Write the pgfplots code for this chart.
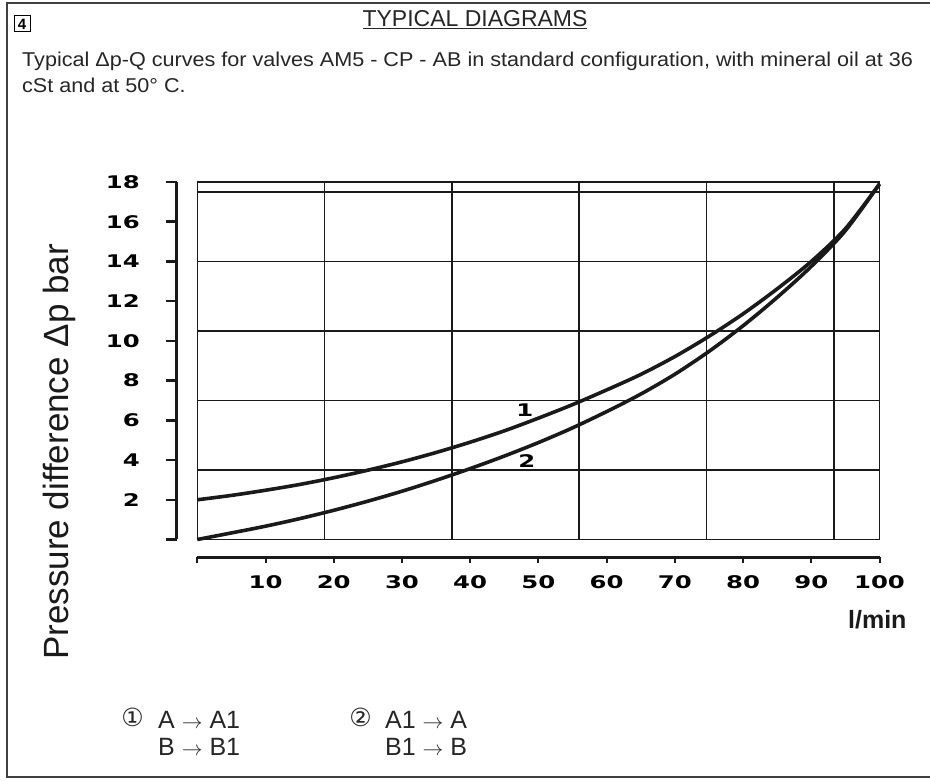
\documentclass[border=0pt]{standalone}
\usepackage{fontspec}
\setmainfont{Liberation Sans}
\newfontfamily\dejavu{DejaVu Sans}
\usepackage{graphicx}
\usepackage{pgfplots}
\pgfplotsset{compat=1.18}
\newcommand\tk[1]{\scalebox{1.4}[1]{\dejavu\bfseries\fontsize{17.4}{17.4}\selectfont #1}}
\newcommand\ar{{\fontsize{20}{20}\selectfont$\rightarrow$}}
\definecolor{ink}{HTML}{1A1A1A}

\begin{document}
\begin{tikzpicture}[x=1pt,y=1pt]
\useasboundingbox (0,0) rectangle (930,780);
% frame
\draw[line width=1.8pt, black!75] (930,777.3) -- (6.7,777.3) -- (6.7,3) -- (930,3);
% box 4
\draw[line width=1pt] (14,780-31.7) rectangle (30,780-16);
\node[font=\bfseries\fontsize{15}{15}\selectfont, inner sep=0pt] at (22,780-24) {4};
% title
\node[anchor=base, inner sep=0pt, font=\fontsize{23}{23}\selectfont, text=black!85] at (475,780-27) {\underline{TYPICAL DIAGRAMS}};
% description
\node[anchor=base west, inner sep=0pt, font=\fontsize{20}{20}\selectfont, text=black!85] at (22,780-66.7) {\scalebox{1.08}[1]{Typical Δp-Q curves for valves AM5 - CP - AB in standard configuration, with mineral oil at 36}};
\node[anchor=base west, inner sep=0pt, font=\fontsize{20}{20}\selectfont, text=black!85] at (22,780-92.7) {\scalebox{1.08}[1]{cSt and at 50° C.}};

% grid axis with curves
\begin{axis}[at={(197.3pt,240.5pt)}, anchor=south west, scale only axis,
  width=682.2pt, height=357.5pt,
  xmin=0, xmax=100, ymin=0, ymax=18,
  xtick={18.66,37.32,55.98,74.64,93.3}, ytick={3.5,7,10.5,14,17.5},
  xticklabels={}, yticklabels={}, major tick length=0pt,
  grid=major, grid style={line width=1.6pt, ink},
  axis line style={line width=1.6pt, ink}, clip=false]
% curve 1
\addplot[smooth, tension=0.5, line width=3.6pt, ink] coordinates {
 (0,2.0) (5,2.22) (10,2.48) (15,2.77) (20,3.11) (25,3.49) (30,3.91)
 (35,4.38) (40,4.90) (45,5.47) (50,6.11) (55,6.79) (60,7.53) (65,8.31)
 (70,9.21) (75,10.23) (80,11.36) (85,12.62) (90,14.0) (95,15.65) (100,17.9)};
% curve 2
\addplot[smooth, tension=0.5, line width=3.6pt, ink] coordinates {
 (0,0) (5,0.33) (10,0.67) (15,1.05) (20,1.47) (25,1.93) (30,2.43)
 (35,2.98) (40,3.57) (45,4.2) (50,4.88) (55,5.62) (60,6.44) (65,7.32)
 (70,8.32) (75,9.47) (80,10.76) (85,12.19) (90,13.75) (95,15.55) (100,17.9)};
\node[inner sep=0pt] at (axis cs:48,6.5) {\tk{1}};
\node[inner sep=0pt] at (axis cs:48.3,3.95) {\tk{2}};
\end{axis}

% x scale axis
\begin{axis}[at={(197.3pt,222.7pt)}, anchor=south west, scale only axis,
  width=682.2pt, height=1pt,
  xmin=0, xmax=100, ymin=0, ymax=1,
  axis x line*=bottom, axis y line=none,
  axis line style={line width=3pt, ink},
  tick align=outside, major tick length=6pt,
  tick style={line width=2pt, ink},
  xtick={0,10,...,100},
  xticklabels={{},\tk{10},\tk{20},\tk{30},\tk{40},\tk{50},\tk{60},\tk{70},\tk{80},\tk{90},\tk{100}},
  xticklabel style={anchor=north, inner sep=0pt, yshift=-11.7pt}]
\end{axis}

% y scale axis
\begin{axis}[at={(176.7pt,240.5pt)}, anchor=south west, scale only axis,
  width=1pt, height=357.5pt,
  xmin=0, xmax=1, ymin=0, ymax=18,
  axis y line*=left, axis x line=none,
  axis line style={line width=3pt, ink},
  tick align=outside, major tick length=11pt,
  tick style={line width=2.5pt, ink},
  ytick={0,2,...,18},
  yticklabels={{},\tk{2},\tk{4},\tk{6},\tk{8},\tk{10},\tk{12},\tk{14},\tk{16},\tk{18}},
  yticklabel style={anchor=east, inner sep=0pt, xshift=-25.7pt}]
\end{axis}

% y label
\node[rotate=90, anchor=base, inner sep=0pt, font=\fontsize{35}{35}\selectfont, text=ink] at (68,780-452) {Pressure difference Δp bar};
% x unit
\node[anchor=east, inner sep=0pt, font=\bfseries\fontsize{25}{25}\selectfont, text=ink] at (906.7,780-620) {l/min};

% legend
\node[inner sep=0pt, font=\dejavu\fontsize{25}{25}\selectfont, text=black!85] at (132.5,780-717.5) {①};
\node[anchor=base west, inner sep=0pt, font=\fontsize{25}{25}\selectfont, text=black!85] at (158,780-728) {A \ar{} A1};
\node[anchor=base west, inner sep=0pt, font=\fontsize{25}{25}\selectfont, text=black!85] at (158,780-755) {B \ar{} B1};
\node[inner sep=0pt, font=\dejavu\fontsize{25}{25}\selectfont, text=black!85] at (360.5,780-717.5) {②};
\node[anchor=base west, inner sep=0pt, font=\fontsize{25}{25}\selectfont, text=black!85] at (385,780-728) {A1 \ar{} A};
\node[anchor=base west, inner sep=0pt, font=\fontsize{25}{25}\selectfont, text=black!85] at (385,780-755) {B1 \ar{} B};
\end{tikzpicture}
\end{document}
